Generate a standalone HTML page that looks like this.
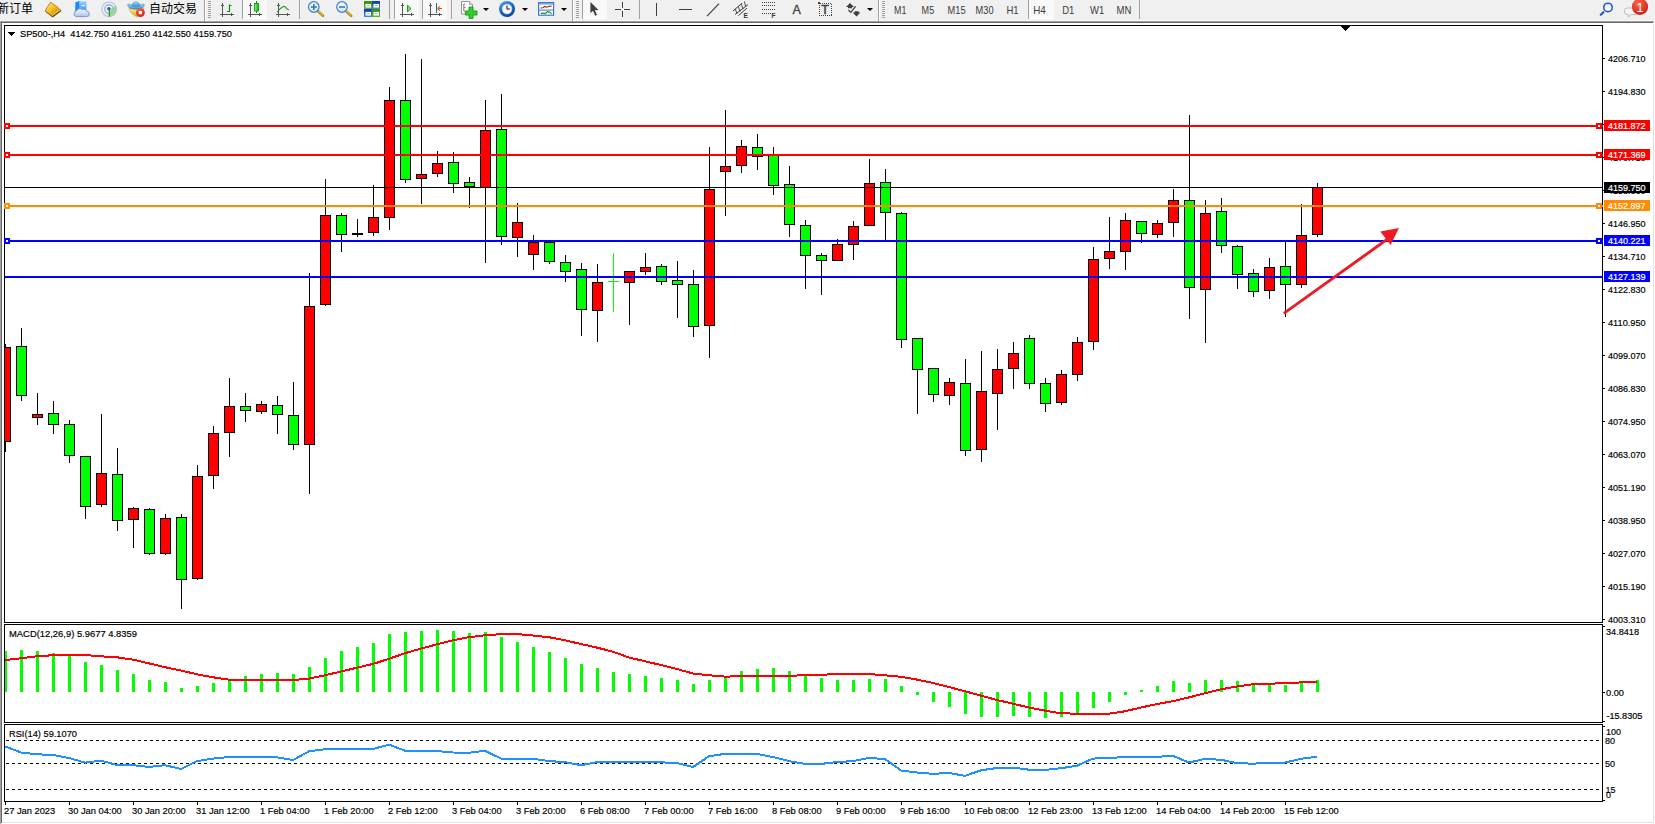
<!DOCTYPE html>
<html lang="zh-CN">
<head>
<meta charset="utf-8">
<title>SP500-,H4</title>
<style>
html,body{margin:0;padding:0;}
body{width:1655px;height:824px;overflow:hidden;background:#f0f0f0;position:relative;
font-family:"Liberation Sans","Noto Sans CJK SC",sans-serif;}
svg.chart{position:absolute;left:0;top:0;display:block;}
#toolbar{position:absolute;left:0;top:0;width:1655px;height:21px;overflow:hidden;}
#toolbar svg{position:absolute;left:0;top:0;display:block;}
.cjk{position:absolute;top:0;height:16px;line-height:16px;font-size:12px;color:#000;white-space:nowrap;
font-family:"Liberation Sans","Noto Sans CJK SC",sans-serif;}
.tf{position:absolute;top:3px;height:14px;line-height:14px;font-size:11px;color:#404040;white-space:nowrap;}
</style>
</head>
<body>
<svg class="chart" width="1655" height="824" viewBox="0 0 1655 824" font-family="'Liberation Sans', sans-serif" font-size="9.3">
<g shape-rendering="crispEdges">
<rect x="0" y="21" width="1655" height="1" fill="#a0a0a0"/>
<rect x="0" y="22" width="1655" height="1" fill="#696969"/>
<rect x="0" y="21" width="1" height="803" fill="#a0a0a0"/>
<rect x="1" y="22" width="1" height="801" fill="#696969"/>
<rect x="2" y="23" width="1651" height="799" fill="#ffffff"/>
<rect x="1653" y="22" width="1" height="801" fill="#e3e3e3"/>
<rect x="2" y="822" width="1652" height="1" fill="#e3e3e3"/>
<rect x="1654" y="21" width="1" height="803" fill="#ffffff"/>
<rect x="1" y="823" width="1654" height="1" fill="#ffffff"/>
<rect x="4" y="25" width="1599" height="1" fill="#000"/>
<rect x="4" y="622" width="1599" height="1" fill="#000"/>
<rect x="4" y="25" width="1" height="598" fill="#000"/>
<rect x="1602" y="25" width="1" height="598" fill="#000"/>
<rect x="4" y="624" width="1599" height="1" fill="#000"/>
<rect x="4" y="722" width="1599" height="1" fill="#000"/>
<rect x="4" y="624" width="1" height="99" fill="#000"/>
<rect x="1602" y="624" width="1" height="99" fill="#000"/>
<rect x="4" y="724" width="1599" height="1" fill="#000"/>
<rect x="4" y="801" width="1599" height="1" fill="#000"/>
<rect x="4" y="724" width="1" height="78" fill="#000"/>
<rect x="1602" y="724" width="1" height="78" fill="#000"/>
<rect x="1341" y="26" width="9" height="1" fill="#000"/>
<rect x="1342" y="27" width="7" height="1" fill="#000"/>
<rect x="1343" y="28" width="5" height="1" fill="#000"/>
<rect x="1344" y="29" width="3" height="1" fill="#000"/>
<rect x="1345" y="30" width="1" height="1" fill="#000"/>
<rect x="8" y="32" width="7" height="1" fill="#000"/>
<rect x="9" y="33" width="5" height="1" fill="#000"/>
<rect x="10" y="34" width="3" height="1" fill="#000"/>
<rect x="11" y="35" width="1" height="1" fill="#000"/>
<rect x="5" y="344" width="1" height="108" fill="#000"/>
<rect x="5" y="347" width="6" height="95" fill="#000"/>
<rect x="5" y="348" width="5" height="93" fill="#ff0000"/>
<rect x="21" y="328" width="1" height="73" fill="#000"/>
<rect x="16" y="346" width="11" height="50" fill="#000"/>
<rect x="17" y="347" width="9" height="48" fill="#00ff00"/>
<rect x="37" y="393" width="1" height="32" fill="#000"/>
<rect x="32" y="414" width="11" height="4" fill="#000"/>
<rect x="33" y="415" width="9" height="2" fill="#ff0000"/>
<rect x="53" y="401" width="1" height="33" fill="#000"/>
<rect x="48" y="413" width="11" height="12" fill="#000"/>
<rect x="49" y="414" width="9" height="10" fill="#00ff00"/>
<rect x="69" y="420" width="1" height="43" fill="#000"/>
<rect x="64" y="424" width="11" height="32" fill="#000"/>
<rect x="65" y="425" width="9" height="30" fill="#00ff00"/>
<rect x="85" y="456" width="1" height="63" fill="#000"/>
<rect x="80" y="456" width="11" height="51" fill="#000"/>
<rect x="81" y="457" width="9" height="49" fill="#00ff00"/>
<rect x="101" y="414" width="1" height="93" fill="#000"/>
<rect x="96" y="473" width="11" height="32" fill="#000"/>
<rect x="97" y="474" width="9" height="30" fill="#ff0000"/>
<rect x="117" y="448" width="1" height="83" fill="#000"/>
<rect x="112" y="474" width="11" height="47" fill="#000"/>
<rect x="113" y="475" width="9" height="45" fill="#00ff00"/>
<rect x="133" y="507" width="1" height="41" fill="#000"/>
<rect x="128" y="508" width="11" height="12" fill="#000"/>
<rect x="129" y="509" width="9" height="10" fill="#ff0000"/>
<rect x="149" y="508" width="1" height="47" fill="#000"/>
<rect x="144" y="509" width="11" height="45" fill="#000"/>
<rect x="145" y="510" width="9" height="43" fill="#00ff00"/>
<rect x="165" y="514" width="1" height="41" fill="#000"/>
<rect x="160" y="518" width="11" height="36" fill="#000"/>
<rect x="161" y="519" width="9" height="34" fill="#ff0000"/>
<rect x="181" y="514" width="1" height="95" fill="#000"/>
<rect x="176" y="517" width="11" height="63" fill="#000"/>
<rect x="177" y="518" width="9" height="61" fill="#00ff00"/>
<rect x="197" y="465" width="1" height="115" fill="#000"/>
<rect x="192" y="476" width="11" height="103" fill="#000"/>
<rect x="193" y="477" width="9" height="101" fill="#ff0000"/>
<rect x="213" y="426" width="1" height="63" fill="#000"/>
<rect x="208" y="433" width="11" height="43" fill="#000"/>
<rect x="209" y="434" width="9" height="41" fill="#ff0000"/>
<rect x="229" y="378" width="1" height="79" fill="#000"/>
<rect x="224" y="406" width="11" height="27" fill="#000"/>
<rect x="225" y="407" width="9" height="25" fill="#ff0000"/>
<rect x="245" y="393" width="1" height="29" fill="#000"/>
<rect x="240" y="406" width="11" height="5" fill="#000"/>
<rect x="241" y="407" width="9" height="3" fill="#00ff00"/>
<rect x="261" y="401" width="1" height="13" fill="#000"/>
<rect x="256" y="404" width="11" height="8" fill="#000"/>
<rect x="257" y="405" width="9" height="6" fill="#ff0000"/>
<rect x="277" y="396" width="1" height="38" fill="#000"/>
<rect x="272" y="405" width="11" height="10" fill="#000"/>
<rect x="273" y="406" width="9" height="8" fill="#00ff00"/>
<rect x="293" y="382" width="1" height="68" fill="#000"/>
<rect x="288" y="415" width="11" height="30" fill="#000"/>
<rect x="289" y="416" width="9" height="28" fill="#00ff00"/>
<rect x="309" y="273" width="1" height="221" fill="#000"/>
<rect x="304" y="306" width="11" height="139" fill="#000"/>
<rect x="305" y="307" width="9" height="137" fill="#ff0000"/>
<rect x="325" y="179" width="1" height="127" fill="#000"/>
<rect x="320" y="215" width="11" height="90" fill="#000"/>
<rect x="321" y="216" width="9" height="88" fill="#ff0000"/>
<rect x="341" y="213" width="1" height="39" fill="#000"/>
<rect x="336" y="215" width="11" height="20" fill="#000"/>
<rect x="337" y="216" width="9" height="18" fill="#00ff00"/>
<rect x="357" y="219" width="1" height="18" fill="#000"/>
<rect x="352" y="233" width="11" height="2" fill="#000"/>
<rect x="373" y="185" width="1" height="51" fill="#000"/>
<rect x="368" y="217" width="11" height="16" fill="#000"/>
<rect x="369" y="218" width="9" height="14" fill="#ff0000"/>
<rect x="389" y="87" width="1" height="143" fill="#000"/>
<rect x="384" y="100" width="11" height="118" fill="#000"/>
<rect x="385" y="101" width="9" height="116" fill="#ff0000"/>
<rect x="405" y="54" width="1" height="129" fill="#000"/>
<rect x="400" y="100" width="11" height="80" fill="#000"/>
<rect x="401" y="101" width="9" height="78" fill="#00ff00"/>
<rect x="421" y="59" width="1" height="145" fill="#000"/>
<rect x="416" y="174" width="11" height="5" fill="#000"/>
<rect x="417" y="175" width="9" height="3" fill="#ff0000"/>
<rect x="437" y="151" width="1" height="26" fill="#000"/>
<rect x="432" y="163" width="11" height="11" fill="#000"/>
<rect x="433" y="164" width="9" height="9" fill="#ff0000"/>
<rect x="453" y="152" width="1" height="41" fill="#000"/>
<rect x="448" y="162" width="11" height="22" fill="#000"/>
<rect x="449" y="163" width="9" height="20" fill="#00ff00"/>
<rect x="469" y="177" width="1" height="31" fill="#000"/>
<rect x="464" y="182" width="11" height="5" fill="#000"/>
<rect x="465" y="183" width="9" height="3" fill="#00ff00"/>
<rect x="485" y="100" width="1" height="163" fill="#000"/>
<rect x="480" y="130" width="11" height="58" fill="#000"/>
<rect x="481" y="131" width="9" height="56" fill="#ff0000"/>
<rect x="501" y="94" width="1" height="151" fill="#000"/>
<rect x="496" y="129" width="11" height="108" fill="#000"/>
<rect x="497" y="130" width="9" height="106" fill="#00ff00"/>
<rect x="517" y="203" width="1" height="54" fill="#000"/>
<rect x="512" y="222" width="11" height="16" fill="#000"/>
<rect x="513" y="223" width="9" height="14" fill="#ff0000"/>
<rect x="533" y="235" width="1" height="35" fill="#000"/>
<rect x="528" y="242" width="11" height="13" fill="#000"/>
<rect x="529" y="243" width="9" height="11" fill="#ff0000"/>
<rect x="549" y="242" width="1" height="22" fill="#000"/>
<rect x="544" y="242" width="11" height="20" fill="#000"/>
<rect x="545" y="243" width="9" height="18" fill="#00ff00"/>
<rect x="565" y="255" width="1" height="27" fill="#000"/>
<rect x="560" y="262" width="11" height="10" fill="#000"/>
<rect x="561" y="263" width="9" height="8" fill="#00ff00"/>
<rect x="581" y="263" width="1" height="73" fill="#000"/>
<rect x="576" y="269" width="11" height="41" fill="#000"/>
<rect x="577" y="270" width="9" height="39" fill="#00ff00"/>
<rect x="597" y="264" width="1" height="78" fill="#000"/>
<rect x="592" y="282" width="11" height="29" fill="#000"/>
<rect x="593" y="283" width="9" height="27" fill="#ff0000"/>
<rect x="613" y="253" width="1" height="59" fill="#00ff00"/>
<rect x="608" y="281" width="11" height="1" fill="#00ff00"/>
<rect x="629" y="271" width="1" height="54" fill="#000"/>
<rect x="624" y="271" width="11" height="12" fill="#000"/>
<rect x="625" y="272" width="9" height="10" fill="#ff0000"/>
<rect x="645" y="253" width="1" height="22" fill="#000"/>
<rect x="640" y="267" width="11" height="5" fill="#000"/>
<rect x="641" y="268" width="9" height="3" fill="#ff0000"/>
<rect x="661" y="264" width="1" height="21" fill="#000"/>
<rect x="656" y="266" width="11" height="16" fill="#000"/>
<rect x="657" y="267" width="9" height="14" fill="#00ff00"/>
<rect x="677" y="261" width="1" height="57" fill="#000"/>
<rect x="672" y="280" width="11" height="5" fill="#000"/>
<rect x="673" y="281" width="9" height="3" fill="#00ff00"/>
<rect x="693" y="270" width="1" height="67" fill="#000"/>
<rect x="688" y="284" width="11" height="43" fill="#000"/>
<rect x="689" y="285" width="9" height="41" fill="#00ff00"/>
<rect x="709" y="147" width="1" height="211" fill="#000"/>
<rect x="704" y="189" width="11" height="137" fill="#000"/>
<rect x="705" y="190" width="9" height="135" fill="#ff0000"/>
<rect x="725" y="110" width="1" height="106" fill="#000"/>
<rect x="720" y="166" width="11" height="6" fill="#000"/>
<rect x="721" y="167" width="9" height="4" fill="#ff0000"/>
<rect x="741" y="140" width="1" height="33" fill="#000"/>
<rect x="736" y="146" width="11" height="20" fill="#000"/>
<rect x="737" y="147" width="9" height="18" fill="#ff0000"/>
<rect x="757" y="134" width="1" height="36" fill="#000"/>
<rect x="752" y="147" width="11" height="10" fill="#000"/>
<rect x="753" y="148" width="9" height="8" fill="#00ff00"/>
<rect x="773" y="147" width="1" height="48" fill="#000"/>
<rect x="768" y="155" width="11" height="31" fill="#000"/>
<rect x="769" y="156" width="9" height="29" fill="#00ff00"/>
<rect x="789" y="166" width="1" height="71" fill="#000"/>
<rect x="784" y="184" width="11" height="41" fill="#000"/>
<rect x="785" y="185" width="9" height="39" fill="#00ff00"/>
<rect x="805" y="220" width="1" height="69" fill="#000"/>
<rect x="800" y="225" width="11" height="31" fill="#000"/>
<rect x="801" y="226" width="9" height="29" fill="#00ff00"/>
<rect x="821" y="253" width="1" height="42" fill="#000"/>
<rect x="816" y="255" width="11" height="6" fill="#000"/>
<rect x="817" y="256" width="9" height="4" fill="#00ff00"/>
<rect x="837" y="239" width="1" height="22" fill="#000"/>
<rect x="832" y="244" width="11" height="17" fill="#000"/>
<rect x="833" y="245" width="9" height="15" fill="#ff0000"/>
<rect x="853" y="221" width="1" height="39" fill="#000"/>
<rect x="848" y="226" width="11" height="19" fill="#000"/>
<rect x="849" y="227" width="9" height="17" fill="#ff0000"/>
<rect x="869" y="159" width="1" height="67" fill="#000"/>
<rect x="864" y="183" width="11" height="43" fill="#000"/>
<rect x="865" y="184" width="9" height="41" fill="#ff0000"/>
<rect x="885" y="169" width="1" height="72" fill="#000"/>
<rect x="880" y="182" width="11" height="31" fill="#000"/>
<rect x="881" y="183" width="9" height="29" fill="#00ff00"/>
<rect x="901" y="212" width="1" height="136" fill="#000"/>
<rect x="896" y="213" width="11" height="127" fill="#000"/>
<rect x="897" y="214" width="9" height="125" fill="#00ff00"/>
<rect x="917" y="338" width="1" height="76" fill="#000"/>
<rect x="912" y="338" width="11" height="32" fill="#000"/>
<rect x="913" y="339" width="9" height="30" fill="#00ff00"/>
<rect x="933" y="368" width="1" height="34" fill="#000"/>
<rect x="928" y="368" width="11" height="27" fill="#000"/>
<rect x="929" y="369" width="9" height="25" fill="#00ff00"/>
<rect x="949" y="378" width="1" height="27" fill="#000"/>
<rect x="944" y="382" width="11" height="14" fill="#000"/>
<rect x="945" y="383" width="9" height="12" fill="#ff0000"/>
<rect x="965" y="359" width="1" height="97" fill="#000"/>
<rect x="960" y="383" width="11" height="68" fill="#000"/>
<rect x="961" y="384" width="9" height="66" fill="#00ff00"/>
<rect x="981" y="351" width="1" height="111" fill="#000"/>
<rect x="976" y="391" width="11" height="59" fill="#000"/>
<rect x="977" y="392" width="9" height="57" fill="#ff0000"/>
<rect x="997" y="349" width="1" height="81" fill="#000"/>
<rect x="992" y="369" width="11" height="25" fill="#000"/>
<rect x="993" y="370" width="9" height="23" fill="#ff0000"/>
<rect x="1013" y="342" width="1" height="47" fill="#000"/>
<rect x="1008" y="353" width="11" height="16" fill="#000"/>
<rect x="1009" y="354" width="9" height="14" fill="#ff0000"/>
<rect x="1029" y="335" width="1" height="54" fill="#000"/>
<rect x="1024" y="338" width="11" height="46" fill="#000"/>
<rect x="1025" y="339" width="9" height="44" fill="#00ff00"/>
<rect x="1045" y="378" width="1" height="34" fill="#000"/>
<rect x="1040" y="383" width="11" height="21" fill="#000"/>
<rect x="1041" y="384" width="9" height="19" fill="#00ff00"/>
<rect x="1061" y="370" width="1" height="35" fill="#000"/>
<rect x="1056" y="374" width="11" height="29" fill="#000"/>
<rect x="1057" y="375" width="9" height="27" fill="#ff0000"/>
<rect x="1077" y="337" width="1" height="44" fill="#000"/>
<rect x="1072" y="342" width="11" height="33" fill="#000"/>
<rect x="1073" y="343" width="9" height="31" fill="#ff0000"/>
<rect x="1093" y="247" width="1" height="103" fill="#000"/>
<rect x="1088" y="259" width="11" height="83" fill="#000"/>
<rect x="1089" y="260" width="9" height="81" fill="#ff0000"/>
<rect x="1109" y="217" width="1" height="52" fill="#000"/>
<rect x="1104" y="251" width="11" height="8" fill="#000"/>
<rect x="1105" y="252" width="9" height="6" fill="#ff0000"/>
<rect x="1125" y="213" width="1" height="57" fill="#000"/>
<rect x="1120" y="220" width="11" height="32" fill="#000"/>
<rect x="1121" y="221" width="9" height="30" fill="#ff0000"/>
<rect x="1141" y="221" width="1" height="22" fill="#000"/>
<rect x="1136" y="221" width="11" height="13" fill="#000"/>
<rect x="1137" y="222" width="9" height="11" fill="#00ff00"/>
<rect x="1157" y="220" width="1" height="18" fill="#000"/>
<rect x="1152" y="223" width="11" height="12" fill="#000"/>
<rect x="1153" y="224" width="9" height="10" fill="#ff0000"/>
<rect x="1173" y="189" width="1" height="48" fill="#000"/>
<rect x="1168" y="200" width="11" height="23" fill="#000"/>
<rect x="1169" y="201" width="9" height="21" fill="#ff0000"/>
<rect x="1189" y="115" width="1" height="204" fill="#000"/>
<rect x="1184" y="200" width="11" height="88" fill="#000"/>
<rect x="1185" y="201" width="9" height="86" fill="#00ff00"/>
<rect x="1205" y="200" width="1" height="143" fill="#000"/>
<rect x="1200" y="213" width="11" height="77" fill="#000"/>
<rect x="1201" y="214" width="9" height="75" fill="#ff0000"/>
<rect x="1221" y="198" width="1" height="55" fill="#000"/>
<rect x="1216" y="211" width="11" height="35" fill="#000"/>
<rect x="1217" y="212" width="9" height="33" fill="#00ff00"/>
<rect x="1237" y="245" width="1" height="44" fill="#000"/>
<rect x="1232" y="246" width="11" height="29" fill="#000"/>
<rect x="1233" y="247" width="9" height="27" fill="#00ff00"/>
<rect x="1253" y="269" width="1" height="28" fill="#000"/>
<rect x="1248" y="273" width="11" height="19" fill="#000"/>
<rect x="1249" y="274" width="9" height="17" fill="#00ff00"/>
<rect x="1269" y="258" width="1" height="41" fill="#000"/>
<rect x="1264" y="267" width="11" height="24" fill="#000"/>
<rect x="1265" y="268" width="9" height="22" fill="#ff0000"/>
<rect x="1285" y="242" width="1" height="75" fill="#000"/>
<rect x="1280" y="266" width="11" height="19" fill="#000"/>
<rect x="1281" y="267" width="9" height="17" fill="#00ff00"/>
<rect x="1301" y="204" width="1" height="84" fill="#000"/>
<rect x="1296" y="235" width="11" height="50" fill="#000"/>
<rect x="1297" y="236" width="9" height="48" fill="#ff0000"/>
<rect x="1317" y="183" width="1" height="54" fill="#000"/>
<rect x="1312" y="187" width="11" height="48" fill="#000"/>
<rect x="1313" y="188" width="9" height="46" fill="#ff0000"/>
<rect x="5" y="125" width="1598" height="2" fill="#ff0000"/>
<rect x="4" y="123" width="6" height="6" fill="#ff0000"/>
<rect x="6" y="125" width="2" height="2" fill="#fff"/>
<rect x="1596" y="123" width="6" height="6" fill="#ff0000"/>
<rect x="1598" y="125" width="2" height="2" fill="#fff"/>
<rect x="5" y="154" width="1598" height="2" fill="#ff0000"/>
<rect x="4" y="152" width="6" height="6" fill="#ff0000"/>
<rect x="6" y="154" width="2" height="2" fill="#fff"/>
<rect x="1596" y="152" width="6" height="6" fill="#ff0000"/>
<rect x="1598" y="154" width="2" height="2" fill="#fff"/>
<rect x="5" y="187" width="1598" height="1" fill="#000"/>
<rect x="5" y="205" width="1598" height="2" fill="#ff8c00"/>
<rect x="4" y="203" width="6" height="6" fill="#ff8c00"/>
<rect x="6" y="205" width="2" height="2" fill="#fff"/>
<rect x="1596" y="203" width="6" height="6" fill="#ff8c00"/>
<rect x="1598" y="205" width="2" height="2" fill="#fff"/>
<rect x="5" y="240" width="1598" height="2" fill="#0000ff"/>
<rect x="4" y="238" width="6" height="6" fill="#0000ff"/>
<rect x="6" y="240" width="2" height="2" fill="#fff"/>
<rect x="1596" y="238" width="6" height="6" fill="#0000ff"/>
<rect x="1598" y="240" width="2" height="2" fill="#fff"/>
<rect x="5" y="276" width="1598" height="2" fill="#0000ff"/>
<rect x="5" y="651" width="2" height="41" fill="#00ff00"/>
<rect x="20" y="650" width="3" height="42" fill="#00ff00"/>
<rect x="36" y="651" width="3" height="41" fill="#00ff00"/>
<rect x="52" y="653" width="3" height="39" fill="#00ff00"/>
<rect x="68" y="655" width="3" height="37" fill="#00ff00"/>
<rect x="84" y="662" width="3" height="30" fill="#00ff00"/>
<rect x="100" y="665" width="3" height="27" fill="#00ff00"/>
<rect x="116" y="670" width="3" height="22" fill="#00ff00"/>
<rect x="132" y="674" width="3" height="18" fill="#00ff00"/>
<rect x="148" y="680" width="3" height="12" fill="#00ff00"/>
<rect x="164" y="682" width="3" height="10" fill="#00ff00"/>
<rect x="180" y="688" width="3" height="4" fill="#00ff00"/>
<rect x="196" y="686" width="3" height="6" fill="#00ff00"/>
<rect x="212" y="683" width="3" height="9" fill="#00ff00"/>
<rect x="228" y="680" width="3" height="12" fill="#00ff00"/>
<rect x="244" y="676" width="3" height="16" fill="#00ff00"/>
<rect x="260" y="674" width="3" height="18" fill="#00ff00"/>
<rect x="276" y="673" width="3" height="19" fill="#00ff00"/>
<rect x="292" y="674" width="3" height="18" fill="#00ff00"/>
<rect x="308" y="667" width="3" height="25" fill="#00ff00"/>
<rect x="324" y="658" width="3" height="34" fill="#00ff00"/>
<rect x="340" y="651" width="3" height="41" fill="#00ff00"/>
<rect x="356" y="647" width="3" height="45" fill="#00ff00"/>
<rect x="372" y="643" width="3" height="49" fill="#00ff00"/>
<rect x="388" y="634" width="3" height="58" fill="#00ff00"/>
<rect x="404" y="632" width="3" height="60" fill="#00ff00"/>
<rect x="420" y="631" width="3" height="61" fill="#00ff00"/>
<rect x="436" y="630" width="3" height="62" fill="#00ff00"/>
<rect x="452" y="631" width="3" height="61" fill="#00ff00"/>
<rect x="468" y="633" width="3" height="59" fill="#00ff00"/>
<rect x="484" y="632" width="3" height="60" fill="#00ff00"/>
<rect x="500" y="637" width="3" height="55" fill="#00ff00"/>
<rect x="516" y="642" width="3" height="50" fill="#00ff00"/>
<rect x="532" y="647" width="3" height="45" fill="#00ff00"/>
<rect x="548" y="652" width="3" height="40" fill="#00ff00"/>
<rect x="564" y="658" width="3" height="34" fill="#00ff00"/>
<rect x="580" y="664" width="3" height="28" fill="#00ff00"/>
<rect x="596" y="668" width="3" height="24" fill="#00ff00"/>
<rect x="612" y="672" width="3" height="20" fill="#00ff00"/>
<rect x="628" y="674" width="3" height="18" fill="#00ff00"/>
<rect x="644" y="676" width="3" height="16" fill="#00ff00"/>
<rect x="660" y="678" width="3" height="14" fill="#00ff00"/>
<rect x="676" y="680" width="3" height="12" fill="#00ff00"/>
<rect x="692" y="684" width="3" height="8" fill="#00ff00"/>
<rect x="708" y="680" width="3" height="12" fill="#00ff00"/>
<rect x="724" y="676" width="3" height="16" fill="#00ff00"/>
<rect x="740" y="671" width="3" height="21" fill="#00ff00"/>
<rect x="756" y="669" width="3" height="23" fill="#00ff00"/>
<rect x="772" y="668" width="3" height="24" fill="#00ff00"/>
<rect x="788" y="671" width="3" height="21" fill="#00ff00"/>
<rect x="804" y="676" width="3" height="16" fill="#00ff00"/>
<rect x="820" y="678" width="3" height="14" fill="#00ff00"/>
<rect x="836" y="680" width="3" height="12" fill="#00ff00"/>
<rect x="852" y="680" width="3" height="12" fill="#00ff00"/>
<rect x="868" y="679" width="3" height="13" fill="#00ff00"/>
<rect x="884" y="679" width="3" height="13" fill="#00ff00"/>
<rect x="900" y="686" width="3" height="6" fill="#00ff00"/>
<rect x="916" y="692" width="3" height="3" fill="#00ff00"/>
<rect x="932" y="692" width="3" height="10" fill="#00ff00"/>
<rect x="948" y="692" width="3" height="15" fill="#00ff00"/>
<rect x="964" y="692" width="3" height="22" fill="#00ff00"/>
<rect x="980" y="692" width="3" height="25" fill="#00ff00"/>
<rect x="996" y="692" width="3" height="25" fill="#00ff00"/>
<rect x="1012" y="692" width="3" height="24" fill="#00ff00"/>
<rect x="1028" y="692" width="3" height="25" fill="#00ff00"/>
<rect x="1044" y="692" width="3" height="26" fill="#00ff00"/>
<rect x="1060" y="692" width="3" height="25" fill="#00ff00"/>
<rect x="1076" y="692" width="3" height="21" fill="#00ff00"/>
<rect x="1092" y="692" width="3" height="16" fill="#00ff00"/>
<rect x="1108" y="692" width="3" height="10" fill="#00ff00"/>
<rect x="1124" y="692" width="3" height="3" fill="#00ff00"/>
<rect x="1140" y="690" width="3" height="2" fill="#00ff00"/>
<rect x="1156" y="686" width="3" height="6" fill="#00ff00"/>
<rect x="1172" y="681" width="3" height="11" fill="#00ff00"/>
<rect x="1188" y="683" width="3" height="9" fill="#00ff00"/>
<rect x="1204" y="680" width="3" height="12" fill="#00ff00"/>
<rect x="1220" y="680" width="3" height="12" fill="#00ff00"/>
<rect x="1236" y="681" width="3" height="11" fill="#00ff00"/>
<rect x="1252" y="683" width="3" height="9" fill="#00ff00"/>
<rect x="1268" y="684" width="3" height="8" fill="#00ff00"/>
<rect x="1284" y="685" width="3" height="7" fill="#00ff00"/>
<rect x="1300" y="683" width="3" height="9" fill="#00ff00"/>
<rect x="1316" y="680" width="3" height="12" fill="#00ff00"/>
<path d="M6 740.5H1602" stroke="#000" stroke-width="1" stroke-dasharray="3 3" fill="none"/>
<path d="M6 763.5H1602" stroke="#000" stroke-width="1" stroke-dasharray="3 3" fill="none"/>
<path d="M6 789.5H1602" stroke="#000" stroke-width="1" stroke-dasharray="3 3" fill="none"/>
<rect x="5" y="802" width="1" height="3" fill="#000"/>
<rect x="69" y="802" width="1" height="3" fill="#000"/>
<rect x="133" y="802" width="1" height="3" fill="#000"/>
<rect x="197" y="802" width="1" height="3" fill="#000"/>
<rect x="261" y="802" width="1" height="3" fill="#000"/>
<rect x="325" y="802" width="1" height="3" fill="#000"/>
<rect x="389" y="802" width="1" height="3" fill="#000"/>
<rect x="453" y="802" width="1" height="3" fill="#000"/>
<rect x="517" y="802" width="1" height="3" fill="#000"/>
<rect x="581" y="802" width="1" height="3" fill="#000"/>
<rect x="645" y="802" width="1" height="3" fill="#000"/>
<rect x="709" y="802" width="1" height="3" fill="#000"/>
<rect x="773" y="802" width="1" height="3" fill="#000"/>
<rect x="837" y="802" width="1" height="3" fill="#000"/>
<rect x="901" y="802" width="1" height="3" fill="#000"/>
<rect x="965" y="802" width="1" height="3" fill="#000"/>
<rect x="1029" y="802" width="1" height="3" fill="#000"/>
<rect x="1093" y="802" width="1" height="3" fill="#000"/>
<rect x="1157" y="802" width="1" height="3" fill="#000"/>
<rect x="1221" y="802" width="1" height="3" fill="#000"/>
<rect x="1285" y="802" width="1" height="3" fill="#000"/>
<rect x="1603" y="58" width="2" height="1" fill="#000"/>
<rect x="1603" y="91" width="2" height="1" fill="#000"/>
<rect x="1603" y="124" width="2" height="1" fill="#000"/>
<rect x="1603" y="157" width="2" height="1" fill="#000"/>
<rect x="1603" y="190" width="2" height="1" fill="#000"/>
<rect x="1603" y="223" width="2" height="1" fill="#000"/>
<rect x="1603" y="256" width="2" height="1" fill="#000"/>
<rect x="1603" y="289" width="2" height="1" fill="#000"/>
<rect x="1603" y="322" width="2" height="1" fill="#000"/>
<rect x="1603" y="355" width="2" height="1" fill="#000"/>
<rect x="1603" y="388" width="2" height="1" fill="#000"/>
<rect x="1603" y="421" width="2" height="1" fill="#000"/>
<rect x="1603" y="454" width="2" height="1" fill="#000"/>
<rect x="1603" y="487" width="2" height="1" fill="#000"/>
<rect x="1603" y="520" width="2" height="1" fill="#000"/>
<rect x="1603" y="553" width="2" height="1" fill="#000"/>
<rect x="1603" y="586" width="2" height="1" fill="#000"/>
<rect x="1603" y="619" width="2" height="1" fill="#000"/>
<rect x="1603" y="626" width="2" height="1" fill="#000"/>
<rect x="1603" y="692" width="2" height="1" fill="#000"/>
<rect x="1603" y="721" width="2" height="1" fill="#000"/>
<rect x="1603" y="726" width="2" height="1" fill="#000"/>
<rect x="1603" y="800" width="2" height="1" fill="#000"/>
</g>
<polyline points="5,660 21,658.3 37,656.3 53,655.2 69,654.7 85,655 101,656.3 117,657.3 133,659.6 149,663.4 165,667.2 181,670.5 197,674.3 213,677.3 229,679.6 245,680 261,680 277,680 293,680 309,678.6 325,675.3 341,671.5 357,667.7 373,663.9 389,658.8 405,653.2 421,648.6 437,644.3 453,640.3 469,637.2 485,635.2 501,634.2 517,634 533,635.5 549,637.2 565,640.3 581,644 597,647.6 613,651.7 629,657.5 645,661.3 661,665 677,669 693,673.5 709,675.3 725,676.6 741,676.3 757,676.3 773,676.3 789,676.3 805,674.8 821,674.8 837,674 853,674 869,674 885,675.3 901,676.8 917,679.6 933,683 949,687 965,691.3 981,695.6 997,700 1013,703.7 1029,707.5 1045,710.6 1061,713.4 1077,713.6 1093,713.6 1109,713.6 1125,711.3 1141,707.5 1157,704 1173,701.2 1189,697.4 1205,693.3 1221,689.3 1237,686.5 1253,684.2 1269,683.7 1285,683.2 1301,682.4 1317,682" fill="none" stroke="#ff0000" stroke-width="2" stroke-linejoin="round" shape-rendering="crispEdges"/>
<polyline points="5,746.4 21,752.5 37,754.3 53,755 69,758 85,762.6 101,760.6 117,765 133,765.2 149,767 165,765.2 181,769 197,761.1 213,758.6 229,757 245,757 261,757 277,757.3 293,760.1 309,751.3 325,749.2 341,749 357,749 373,749 389,744.6 405,750.7 421,750.7 437,751 453,752.5 469,752.7 485,750.7 501,758.6 517,758.6 533,758.8 549,761.1 565,762.1 581,765.2 597,762.1 613,762.1 629,762.3 645,762.3 661,762.3 677,763.1 693,767 709,756.3 725,753.8 741,753.8 757,754 773,757 789,761.1 805,763.9 821,763.9 837,762.1 853,761.1 869,758 885,759 901,770.5 917,772.5 933,773.8 949,773 965,775.8 981,770.3 997,768 1013,767.5 1029,769.7 1045,770 1061,768.2 1077,765.7 1093,758.6 1109,758 1125,757 1141,757 1157,756.8 1173,755.8 1189,762.6 1205,758.8 1221,759.8 1237,763.1 1253,763.7 1269,762.6 1285,762.6 1301,758.8 1317,756.8" fill="none" stroke="#1e90ff" stroke-width="2" stroke-linejoin="round" shape-rendering="crispEdges"/>
<g fill="#ed1c24" stroke="none">
<path d="M1283 312.2 L1284.6 314.6 L1388 240.6 L1386.2 238.2 Z"/>
<path d="M1399 228 L1380.3 231.6 L1390.6 245 Z"/>
</g>
<text x="20" y="37" font-size="9.3" fill="#000" stroke="#000" stroke-width="0.18" style="white-space:pre" textLength="212" lengthAdjust="spacingAndGlyphs">SP500-,H4  4142.750 4161.250 4142.550 4159.750</text>
<text x="9" y="637" font-size="9.3" fill="#000" stroke="#000" stroke-width="0.18" style="white-space:pre" textLength="128" lengthAdjust="spacingAndGlyphs">MACD(12,26,9) 5.9677 4.8359</text>
<text x="9" y="737" font-size="9.3" fill="#000" stroke="#000" stroke-width="0.18" style="white-space:pre" textLength="68" lengthAdjust="spacingAndGlyphs">RSI(14) 59.1070</text>
<text x="4" y="814" font-size="9.3" fill="#000" stroke="#000" stroke-width="0.18" style="white-space:pre">27 Jan 2023</text>
<text x="68" y="814" font-size="9.3" fill="#000" stroke="#000" stroke-width="0.18" style="white-space:pre">30 Jan 04:00</text>
<text x="132" y="814" font-size="9.3" fill="#000" stroke="#000" stroke-width="0.18" style="white-space:pre">30 Jan 20:00</text>
<text x="196" y="814" font-size="9.3" fill="#000" stroke="#000" stroke-width="0.18" style="white-space:pre">31 Jan 12:00</text>
<text x="260" y="814" font-size="9.3" fill="#000" stroke="#000" stroke-width="0.18" style="white-space:pre">1 Feb 04:00</text>
<text x="324" y="814" font-size="9.3" fill="#000" stroke="#000" stroke-width="0.18" style="white-space:pre">1 Feb 20:00</text>
<text x="388" y="814" font-size="9.3" fill="#000" stroke="#000" stroke-width="0.18" style="white-space:pre">2 Feb 12:00</text>
<text x="452" y="814" font-size="9.3" fill="#000" stroke="#000" stroke-width="0.18" style="white-space:pre">3 Feb 04:00</text>
<text x="516" y="814" font-size="9.3" fill="#000" stroke="#000" stroke-width="0.18" style="white-space:pre">3 Feb 20:00</text>
<text x="580" y="814" font-size="9.3" fill="#000" stroke="#000" stroke-width="0.18" style="white-space:pre">6 Feb 08:00</text>
<text x="644" y="814" font-size="9.3" fill="#000" stroke="#000" stroke-width="0.18" style="white-space:pre">7 Feb 00:00</text>
<text x="708" y="814" font-size="9.3" fill="#000" stroke="#000" stroke-width="0.18" style="white-space:pre">7 Feb 16:00</text>
<text x="772" y="814" font-size="9.3" fill="#000" stroke="#000" stroke-width="0.18" style="white-space:pre">8 Feb 08:00</text>
<text x="836" y="814" font-size="9.3" fill="#000" stroke="#000" stroke-width="0.18" style="white-space:pre">9 Feb 00:00</text>
<text x="900" y="814" font-size="9.3" fill="#000" stroke="#000" stroke-width="0.18" style="white-space:pre">9 Feb 16:00</text>
<text x="964" y="814" font-size="9.3" fill="#000" stroke="#000" stroke-width="0.18" style="white-space:pre">10 Feb 08:00</text>
<text x="1028" y="814" font-size="9.3" fill="#000" stroke="#000" stroke-width="0.18" style="white-space:pre">12 Feb 23:00</text>
<text x="1092" y="814" font-size="9.3" fill="#000" stroke="#000" stroke-width="0.18" style="white-space:pre">13 Feb 12:00</text>
<text x="1156" y="814" font-size="9.3" fill="#000" stroke="#000" stroke-width="0.18" style="white-space:pre">14 Feb 04:00</text>
<text x="1220" y="814" font-size="9.3" fill="#000" stroke="#000" stroke-width="0.18" style="white-space:pre">14 Feb 20:00</text>
<text x="1284" y="814" font-size="9.3" fill="#000" stroke="#000" stroke-width="0.18" style="white-space:pre">15 Feb 12:00</text>
<text x="1608" y="62" font-size="9.3" fill="#000" stroke="#000" stroke-width="0.18" style="white-space:pre" textLength="37.6" lengthAdjust="spacingAndGlyphs">4206.710</text>
<text x="1608" y="95" font-size="9.3" fill="#000" stroke="#000" stroke-width="0.18" style="white-space:pre" textLength="37.6" lengthAdjust="spacingAndGlyphs">4194.830</text>
<text x="1608" y="128" font-size="9.3" fill="#000" stroke="#000" stroke-width="0.18" style="white-space:pre" textLength="37.6" lengthAdjust="spacingAndGlyphs">4182.590</text>
<text x="1608" y="161" font-size="9.3" fill="#000" stroke="#000" stroke-width="0.18" style="white-space:pre" textLength="37.6" lengthAdjust="spacingAndGlyphs">4170.710</text>
<text x="1608" y="194" font-size="9.3" fill="#000" stroke="#000" stroke-width="0.18" style="white-space:pre" textLength="37.6" lengthAdjust="spacingAndGlyphs">4158.830</text>
<text x="1608" y="227" font-size="9.3" fill="#000" stroke="#000" stroke-width="0.18" style="white-space:pre" textLength="37.6" lengthAdjust="spacingAndGlyphs">4146.950</text>
<text x="1608" y="260" font-size="9.3" fill="#000" stroke="#000" stroke-width="0.18" style="white-space:pre" textLength="37.6" lengthAdjust="spacingAndGlyphs">4134.710</text>
<text x="1608" y="293" font-size="9.3" fill="#000" stroke="#000" stroke-width="0.18" style="white-space:pre" textLength="37.6" lengthAdjust="spacingAndGlyphs">4122.830</text>
<text x="1608" y="326" font-size="9.3" fill="#000" stroke="#000" stroke-width="0.18" style="white-space:pre" textLength="37.6" lengthAdjust="spacingAndGlyphs">4110.950</text>
<text x="1608" y="359" font-size="9.3" fill="#000" stroke="#000" stroke-width="0.18" style="white-space:pre" textLength="37.6" lengthAdjust="spacingAndGlyphs">4099.070</text>
<text x="1608" y="392" font-size="9.3" fill="#000" stroke="#000" stroke-width="0.18" style="white-space:pre" textLength="37.6" lengthAdjust="spacingAndGlyphs">4086.830</text>
<text x="1608" y="425" font-size="9.3" fill="#000" stroke="#000" stroke-width="0.18" style="white-space:pre" textLength="37.6" lengthAdjust="spacingAndGlyphs">4074.950</text>
<text x="1608" y="458" font-size="9.3" fill="#000" stroke="#000" stroke-width="0.18" style="white-space:pre" textLength="37.6" lengthAdjust="spacingAndGlyphs">4063.070</text>
<text x="1608" y="491" font-size="9.3" fill="#000" stroke="#000" stroke-width="0.18" style="white-space:pre" textLength="37.6" lengthAdjust="spacingAndGlyphs">4051.190</text>
<text x="1608" y="524" font-size="9.3" fill="#000" stroke="#000" stroke-width="0.18" style="white-space:pre" textLength="37.6" lengthAdjust="spacingAndGlyphs">4038.950</text>
<text x="1608" y="557" font-size="9.3" fill="#000" stroke="#000" stroke-width="0.18" style="white-space:pre" textLength="37.6" lengthAdjust="spacingAndGlyphs">4027.070</text>
<text x="1608" y="590" font-size="9.3" fill="#000" stroke="#000" stroke-width="0.18" style="white-space:pre" textLength="37.6" lengthAdjust="spacingAndGlyphs">4015.190</text>
<text x="1608" y="623" font-size="9.3" fill="#000" stroke="#000" stroke-width="0.18" style="white-space:pre" textLength="37.6" lengthAdjust="spacingAndGlyphs">4003.310</text>
<text x="1606" y="635" font-size="9.3" fill="#000" stroke="#000" stroke-width="0.18" style="white-space:pre" textLength="33" lengthAdjust="spacingAndGlyphs">34.8418</text>
<text x="1606" y="696" font-size="9.3" fill="#000" stroke="#000" stroke-width="0.18" style="white-space:pre" textLength="18" lengthAdjust="spacingAndGlyphs">0.00</text>
<text x="1606.4" y="719" font-size="9.3" fill="#000" stroke="#000" stroke-width="0.18" style="white-space:pre" textLength="36" lengthAdjust="spacingAndGlyphs">-15.8305</text>
<text x="1606" y="735" font-size="9.3" fill="#000" stroke="#000" stroke-width="0.18" style="white-space:pre" textLength="15" lengthAdjust="spacingAndGlyphs">100</text>
<text x="1605" y="744" font-size="9.3" fill="#000" stroke="#000" stroke-width="0.18" style="white-space:pre" textLength="10" lengthAdjust="spacingAndGlyphs">80</text>
<text x="1605" y="767" font-size="9.3" fill="#000" stroke="#000" stroke-width="0.18" style="white-space:pre" textLength="10" lengthAdjust="spacingAndGlyphs">50</text>
<text x="1605.6" y="793" font-size="9.3" fill="#000" stroke="#000" stroke-width="0.18" style="white-space:pre" textLength="10" lengthAdjust="spacingAndGlyphs">15</text>
<text x="1606" y="798" font-size="9.3" fill="#000" stroke="#000" stroke-width="0.18" style="white-space:pre" textLength="5" lengthAdjust="spacingAndGlyphs">0</text>
<rect x="1604" y="120" width="46" height="11" fill="#ff0000" shape-rendering="crispEdges"/>
<text x="1608" y="129" font-size="9.3" fill="#fff" stroke="#fff" stroke-width="0.18" style="white-space:pre" textLength="37.6" lengthAdjust="spacingAndGlyphs">4181.872</text>
<rect x="1604" y="149" width="46" height="11" fill="#ff0000" shape-rendering="crispEdges"/>
<text x="1608" y="158" font-size="9.3" fill="#fff" stroke="#fff" stroke-width="0.18" style="white-space:pre" textLength="37.6" lengthAdjust="spacingAndGlyphs">4171.369</text>
<rect x="1604" y="182" width="46" height="11" fill="#000000" shape-rendering="crispEdges"/>
<text x="1608" y="191" font-size="9.3" fill="#fff" stroke="#fff" stroke-width="0.18" style="white-space:pre" textLength="37.6" lengthAdjust="spacingAndGlyphs">4159.750</text>
<rect x="1604" y="200" width="46" height="11" fill="#ff8c00" shape-rendering="crispEdges"/>
<text x="1608" y="209" font-size="9.3" fill="#fff" stroke="#fff" stroke-width="0.18" style="white-space:pre" textLength="37.6" lengthAdjust="spacingAndGlyphs">4152.897</text>
<rect x="1604" y="235" width="46" height="11" fill="#0000ff" shape-rendering="crispEdges"/>
<text x="1608" y="244" font-size="9.3" fill="#fff" stroke="#fff" stroke-width="0.18" style="white-space:pre" textLength="37.6" lengthAdjust="spacingAndGlyphs">4140.221</text>
<rect x="1604" y="271" width="46" height="11" fill="#0000ff" shape-rendering="crispEdges"/>
<text x="1608" y="280" font-size="9.3" fill="#fff" stroke="#fff" stroke-width="0.18" style="white-space:pre" textLength="37.6" lengthAdjust="spacingAndGlyphs">4127.139</text>
</svg>
<div id="toolbar">
<svg width="1655" height="21" viewBox="0 0 1655 21" font-family="'Liberation Sans', sans-serif">
<defs>
<linearGradient id="gold" x1="0" y1="0" x2="1" y2="1"><stop offset="0" stop-color="#fff0a0"/><stop offset=".45" stop-color="#f2c21a"/><stop offset="1" stop-color="#b07810"/></linearGradient>
<linearGradient id="blu" x1="0" y1="0" x2="0" y2="1"><stop offset="0" stop-color="#59b4ff"/><stop offset="1" stop-color="#0a5fd0"/></linearGradient>
<linearGradient id="blu2" x1="0" y1="0" x2="0" y2="1"><stop offset="0" stop-color="#9fd4ff"/><stop offset="1" stop-color="#2f8ff0"/></linearGradient>
<linearGradient id="cloud" x1="0" y1="0" x2="0" y2="1"><stop offset="0" stop-color="#ffffff"/><stop offset="1" stop-color="#a9bfe6"/></linearGradient>
<linearGradient id="grn" x1="0" y1="0" x2="1" y2="0"><stop offset="0" stop-color="#7dff7d"/><stop offset="1" stop-color="#12a812"/></linearGradient>
<linearGradient id="hat" x1="0" y1="0" x2="0" y2="1"><stop offset="0" stop-color="#9fd8f5"/><stop offset="1" stop-color="#3a8fc8"/></linearGradient>
<linearGradient id="yel" x1="0" y1="0" x2="0" y2="1"><stop offset="0" stop-color="#fff3a0"/><stop offset="1" stop-color="#e0a800"/></linearGradient>
<linearGradient id="clk" x1="0.2" y1="0" x2="0.8" y2="1"><stop offset="0" stop-color="#4aa0f4"/><stop offset=".5" stop-color="#1462cc"/><stop offset="1" stop-color="#0a3c94"/></linearGradient>
<radialGradient id="lens" cx=".4" cy=".35" r=".7"><stop offset="0" stop-color="#ffffff"/><stop offset="1" stop-color="#bfe2f7"/></radialGradient>
<radialGradient id="redb" cx=".4" cy=".3" r=".8"><stop offset="0" stop-color="#ff6a50"/><stop offset="1" stop-color="#c81410"/></radialGradient>
<linearGradient id="gq" x1="0" y1="0" x2="0" y2="1"><stop offset="0" stop-color="#2f8f16"/><stop offset="1" stop-color="#5bb52a"/></linearGradient>
<linearGradient id="bq" x1="0" y1="0" x2="0" y2="1"><stop offset="0" stop-color="#1038b8"/><stop offset="1" stop-color="#4a86e8"/></linearGradient>
<g id="axes" shape-rendering="crispEdges" fill="#555">
<rect x="2" y="3" width="1" height="14"/><rect x="1" y="5" width="3" height="1"/>
<rect x="0" y="14" width="14" height="1"/><rect x="11" y="13" width="1" height="3"/>
</g>
<path id="dd" d="M0 0h6l-3 3z" fill="#000"/>
<g id="grip" shape-rendering="crispEdges" fill="#a0a0a0">
<rect x="0" y="1" width="3" height="1"/><rect x="0" y="3" width="3" height="1"/><rect x="0" y="5" width="3" height="1"/>
<rect x="0" y="7" width="3" height="1"/><rect x="0" y="9" width="3" height="1"/><rect x="0" y="11" width="3" height="1"/>
<rect x="0" y="13" width="3" height="1"/><rect x="0" y="15" width="3" height="1"/><rect x="0" y="17" width="3" height="1"/>
</g>
</defs>
<rect x="0" y="0" width="1655" height="20" fill="#f0f0f0"/>
<rect x="0" y="20" width="1655" height="1" fill="#f7f7f7"/>
<g shape-rendering="crispEdges">
<rect x="243" y="0" width="24" height="19" fill="#f9f9f9"/>
<rect x="242" y="0" width="1" height="19" fill="#a0a0a0"/>
<rect x="243" y="18" width="24" height="1" fill="#ffffff"/>
<rect x="395" y="0" width="24" height="19" fill="#f9f9f9"/>
<rect x="394" y="0" width="1" height="19" fill="#a0a0a0"/>
<rect x="395" y="18" width="24" height="1" fill="#ffffff"/>
<rect x="423" y="0" width="24" height="19" fill="#f9f9f9"/>
<rect x="422" y="0" width="1" height="19" fill="#a0a0a0"/>
<rect x="423" y="18" width="24" height="1" fill="#ffffff"/>
<rect x="583" y="0" width="24" height="19" fill="#f9f9f9"/>
<rect x="582" y="0" width="1" height="19" fill="#a0a0a0"/>
<rect x="583" y="18" width="24" height="1" fill="#ffffff"/>
<rect x="1029" y="0" width="25" height="19" fill="#f9f9f9"/>
<rect x="1028" y="0" width="1" height="19" fill="#a0a0a0"/>
<rect x="1029" y="18" width="25" height="1" fill="#ffffff"/>
<rect x="204" y="0" width="1" height="21" fill="#a0a0a0"/>
<rect x="205" y="0" width="1" height="21" fill="#ffffff"/>
<rect x="572" y="0" width="1" height="21" fill="#a0a0a0"/>
<rect x="573" y="0" width="1" height="21" fill="#ffffff"/>
<rect x="878" y="0" width="1" height="21" fill="#a0a0a0"/>
<rect x="879" y="0" width="1" height="21" fill="#ffffff"/>
<rect x="299" y="0" width="1" height="19" fill="#a0a0a0"/>
<rect x="389" y="0" width="1" height="19" fill="#a0a0a0"/>
<rect x="451" y="0" width="1" height="19" fill="#a0a0a0"/>
<rect x="639" y="0" width="1" height="19" fill="#a0a0a0"/>
<rect x="1139" y="0" width="1" height="19" fill="#a0a0a0"/>
</g>
<use href="#grip" x="208" y="0"/>
<use href="#grip" x="576" y="0"/>
<use href="#grip" x="882" y="0"/>
<path d="M50.6 2.3 Q47.4 6.2 45.3 11 L52.3 16.6 L60.9 10.3 Q56 5.4 50.6 2.3 Z" fill="url(#gold)" stroke="#a8700c" stroke-width=".8"/>
<path d="M52.3 16.8 L61 10.5" fill="none" stroke="#7a4c06" stroke-width="1.5"/>
<path d="M52.2 15.5 L60 9.8" fill="none" stroke="#f7e6a8" stroke-width=".7"/>
<path d="M45.3 11.2 L52.3 16.8" fill="none" stroke="#8a5a0a" stroke-width="1"/>
<path d="M75.4 2.4 L79.2 1 L86.4 1.6 L86.4 11.4 L75.4 11.4 Z" fill="url(#blu2)"/>
<path d="M75.4 2.4 L79.2 1 L79.2 11.4 L75.4 11.4 Z" fill="#1a8cff"/>
<rect x="81.4" y="5" width="3.6" height="1.2" fill="#eef7ff"/>
<path d="M76 16.6 h10.6 a2.6 2.6 0 0 0 .3 -5.2 a3 3 0 0 0 -4.4 -1.6 a3.6 3.6 0 0 0 -6 1.2 a2.9 2.9 0 0 0 -.5 5.6 Z" fill="url(#cloud)" stroke="#6f92cc" stroke-width=".9"/>
<g fill="none">
<circle cx="109" cy="9.2" r="7.2" stroke="#a8c2e8" stroke-width="1.1"/>
<circle cx="109" cy="9.2" r="4.3" stroke="#86a8dc" stroke-width="1.1"/>
<path d="M109.6 16.6 A7.4 7.4 0 0 0 116 5.6 L109.6 9.2Z" fill="#8fcf8f" stroke="none" opacity=".75"/>
</g>
<circle cx="108.9" cy="8.7" r="1.7" fill="#2255c8"/>
<rect x="108.7" y="9" width="1.3" height="7.6" fill="#22a022"/>
<path d="M129 8 L144 8 L142.4 13 L136.6 16.8 L131 12.6 Z" fill="url(#yel)" stroke="#c89600" stroke-width=".6"/>
<path d="M127.8 4.4 C129 3.6 131 5 132.4 5.4 L139.6 5.4 C141 5 143 3.6 144.2 4.4 C145 7 141 9.2 136 9.2 C131 9.2 127 7 127.8 4.4 Z" fill="url(#hat)" stroke="#3a80c0" stroke-width=".6"/>
<path d="M131.8 5.8 C132.2 .6 139.8 .6 140.2 5.8 C138 6.8 134 6.8 131.8 5.8 Z" fill="url(#hat)" stroke="#3a80c0" stroke-width=".5"/>
<circle cx="140.4" cy="12.6" r="4.4" fill="url(#redb)"/>
<rect x="138.8" y="11" width="3.2" height="3.2" fill="#fff"/>
<use href="#axes" x="220" y="0"/>
<path d="M229.5 4.5V12 M229.5 5.5h2 M227 11.5h2.5" stroke="#0a8a0a" stroke-width="1.2" fill="none"/>
<use href="#axes" x="248" y="0"/>
<rect x="256" y="1" width="1" height="12" fill="#0a8a0a"/>
<rect x="254.4" y="3.4" width="4.2" height="7.6" fill="url(#grn)" stroke="#0a9a0a" stroke-width=".8"/>
<use href="#axes" x="276" y="0"/>
<path d="M277 12 C281 8 283 5.5 284.5 6.5 S287 9.5 289 10" stroke="#2a9a2a" stroke-width="1.1" fill="none"/>
<path d="M317.8 11 L323.0 15.8" stroke="#b8860b" stroke-width="2.6" stroke-linecap="round"/>
<path d="M318.1 10.8 L322.8 15.2" stroke="#f0d060" stroke-width="1" stroke-linecap="round"/>
<circle cx="313.8" cy="7" r="5.3" fill="url(#lens)" stroke="#3f7fd0" stroke-width="1.2"/>
<rect x="310.8" y="6.2" width="6" height="1.6" fill="#3a78b0"/>
<rect x="313.0" y="4" width="1.6" height="6" fill="#3a78b0"/>
<path d="M346 11 L351.2 15.8" stroke="#b8860b" stroke-width="2.6" stroke-linecap="round"/>
<path d="M346.3 10.8 L351 15.2" stroke="#f0d060" stroke-width="1" stroke-linecap="round"/>
<circle cx="342" cy="7" r="5.3" fill="url(#lens)" stroke="#3f7fd0" stroke-width="1.2"/>
<rect x="339" y="6.2" width="6" height="1.6" fill="#3a78b0"/>
<rect x="364" y="1" width="8" height="8" fill="url(#gq)"/>
<rect x="365.5" y="4" width="5.5" height="3.6" fill="#fff"/>
<rect x="366.5" y="5.2" width="3.5" height="1" fill="#9ad08a"/>
<rect x="372" y="1" width="8" height="8" fill="url(#bq)"/>
<rect x="373.5" y="4" width="5.5" height="3.6" fill="#fff"/>
<rect x="374.5" y="5.2" width="3.5" height="1" fill="#9ab8f0"/>
<rect x="364" y="9" width="8" height="8" fill="url(#bq)"/>
<rect x="365.5" y="12" width="5.5" height="3.6" fill="#fff"/>
<rect x="366.5" y="13.2" width="3.5" height="1" fill="#9ab8f0"/>
<rect x="372" y="9" width="8" height="8" fill="url(#gq)"/>
<rect x="373.5" y="12" width="5.5" height="3.6" fill="#fff"/>
<rect x="374.5" y="13.2" width="3.5" height="1" fill="#9ad08a"/>
<use href="#axes" x="400" y="0"/>
<path d="M407.5 5.2 L411 8.6 L407.5 12 Z" fill="#7ee07e" stroke="#0a9a0a" stroke-width=".9"/>
<use href="#axes" x="428" y="0"/>
<rect x="436" y="3" width="1" height="10" fill="#1a6ab0"/>
<path d="M437.5 8.5 h4.5 M437.5 8.5 l2.4 -2.2 M437.5 8.5 l2.4 2.2" stroke="#e05a00" stroke-width="1.1" fill="none"/>
<path d="M461.5 1.5 h8 l3 3 v9.5 h-11 Z" fill="#fff" stroke="#8a8a8a" stroke-width=".9"/>
<path d="M469.5 1.5 v3 h3" fill="#e8e8e8" stroke="#8a8a8a" stroke-width=".7"/>
<path d="M465 4 h-1.2 v7 h1.2 M463.8 7.5 h1.6" stroke="#6a5a4a" stroke-width=".8" fill="none"/>
<path d="M469 7 h4 v4 h4 v4 h-4 v3.4 h-4 v-3.4 h-3.6 v-4 h3.6 Z" fill="#2fd02f" stroke="#0c8a0c" stroke-width=".8"/>
<use href="#dd" x="483" y="8"/>
<circle cx="507" cy="9" r="8" fill="url(#clk)"/>
<circle cx="507" cy="9" r="5.4" fill="#f6f8fb" stroke="#0d4fae" stroke-width=".5"/>
<path d="M507 9.4 V5.4 M506.6 9 H510" stroke="#202020" stroke-width="1.1" fill="none"/>
<path d="M507 4.2v.8 M507 13v.8 M502.2 9h.8 M511 9h.8" stroke="#8aa0c0" stroke-width=".8"/>
<use href="#dd" x="522" y="8"/>
<rect x="538.6" y="2.6" width="15" height="12.6" fill="#fff" stroke="#3a7ac8" stroke-width="1.2"/>
<rect x="539" y="3" width="14.2" height="1.6" fill="#6aa6ea"/>
<rect x="539" y="9.6" width="14.2" height="1" fill="#3a7ac8"/>
<path d="M540.5 8 l2.5 -.2 l1.8 -1.4 l2.2 .8 l2 -.9 l2.6 -.2" stroke="#a02000" stroke-width="1.1" fill="none"/>
<path d="M541 13.6 l2.4 -.6 l1.8 .6 l2.4 -2 l2 .4 l2 1.6" stroke="#108a10" stroke-width="1.1" fill="none"/>
<use href="#dd" x="561" y="8"/>
<path d="M590.4 2 L590.4 13.2 L593 10.8 L595.2 15.8 L597 15 L594.8 10.2 L598.4 10 Z" fill="#404040"/>
<g shape-rendering="crispEdges" fill="#404040">
<rect x="622" y="2" width="1" height="6"/><rect x="622" y="11" width="1" height="6"/>
<rect x="615" y="9" width="6" height="1"/><rect x="624" y="9" width="6" height="1"/>
<rect x="656" y="3" width="1" height="13"/>
<rect x="679" y="9" width="13" height="1"/>
</g>
<path d="M707 16.2 L719 3.6" stroke="#404040" stroke-width="1.2"/>
<g stroke="#404040" stroke-width="1" fill="none">
<path d="M733 11 L742 3.2 M735 14.5 L748 4.6 M738.4 15.6 L747 8"/>
<path d="M735.4 9 l1.6 5 M738.4 6.6 l1.6 5 M741.4 4.2 l1.6 5 M744.4 1.4 l1.4 5.4" stroke-width=".9"/>
</g>
<text x="743.4" y="17.6" font-size="6.5" font-weight="bold" fill="#303030">E</text>
<g stroke="#404040" stroke-width="1" stroke-dasharray="1 1" fill="none">
<path d="M762 2.5 H776 M762 5.5 H776 M762 9.5 H776 M762 13.5 H771"/>
</g>
<text x="771.6" y="17.6" font-size="6.5" font-weight="bold" fill="#303030">F</text>
<text x="792.4" y="14" font-size="12.5" fill="#404040" stroke="#404040" stroke-width=".3">A</text>
<rect x="819.5" y="3.5" width="12" height="12" fill="none" stroke="#404040" stroke-width="1" stroke-dasharray="1 1" shape-rendering="crispEdges"/>
<rect x="818" y="2" width="2" height="2" fill="#404040"/>
<text x="821.2" y="14.2" font-size="12.5" fill="#404040" stroke="#404040" stroke-width=".5">T</text>
<path d="M846 7 L850 3 L854 7 L852 7 L852 8.2 L848 8.2 L848 7 Z" fill="#404040"/>
<path d="M852.6 12.4 L854.6 12.4 L854.6 11.2 L858.6 11.2 L858.6 12.4 L860.4 12.4 L856.5 16.4 Z" fill="#404040"/>
<path d="M848.4 10 L850.8 12.4 L855.6 6.4" stroke="#404040" stroke-width="1.3" fill="none"/>
<use href="#dd" x="867" y="8"/>
<text x="894" y="13.7" font-size="10.6" fill="#3c3c3c" textLength="12.4" lengthAdjust="spacingAndGlyphs">M1</text>
<text x="921.6" y="13.7" font-size="10.6" fill="#3c3c3c" textLength="12.6" lengthAdjust="spacingAndGlyphs">M5</text>
<text x="947.6" y="13.7" font-size="10.6" fill="#3c3c3c" textLength="18" lengthAdjust="spacingAndGlyphs">M15</text>
<text x="975.6" y="13.7" font-size="10.6" fill="#3c3c3c" textLength="18" lengthAdjust="spacingAndGlyphs">M30</text>
<text x="1006.4" y="13.7" font-size="10.6" fill="#3c3c3c" textLength="12.2" lengthAdjust="spacingAndGlyphs">H1</text>
<text x="1033.2" y="13.7" font-size="10.6" fill="#3c3c3c" textLength="12.6" lengthAdjust="spacingAndGlyphs">H4</text>
<text x="1062.2" y="13.7" font-size="10.6" fill="#3c3c3c" textLength="12.2" lengthAdjust="spacingAndGlyphs">D1</text>
<text x="1090" y="13.7" font-size="10.6" fill="#3c3c3c" textLength="14.2" lengthAdjust="spacingAndGlyphs">W1</text>
<text x="1116.6" y="13.7" font-size="10.6" fill="#3c3c3c" textLength="14.8" lengthAdjust="spacingAndGlyphs">MN</text>
<path d="M1603.4 12.2 L1600.8 14.8" stroke="#2a58c8" stroke-width="2.2" stroke-linecap="round"/>
<circle cx="1608" cy="7.4" r="4.2" fill="#f4f8ff" stroke="#2a58c8" stroke-width="1.6"/>
<path d="M1627 8 h9 a2.4 2.4 0 0 1 2.4 2.4 v1.8 a2.4 2.4 0 0 1 -2.4 2.4 h-5 l-2.6 2.6 v-2.6 h-1.4 a2.4 2.4 0 0 1 -2.4 -2.4 v-1.8 a2.4 2.4 0 0 1 2.4 -2.4Z" fill="#f4f4f4" stroke="#b0b0b0" stroke-width=".8"/>
<circle cx="1640" cy="6.8" r="8.1" fill="url(#redb)"/>
<text x="1640" y="11.6" font-size="12.5" fill="#fff" text-anchor="middle">1</text>
</svg>
<div class="cjk" style="left:-3px;top:1px;">新订单</div>
<div class="cjk" style="left:149px;top:1px;">自动交易</div>
</div>
</body>
</html>
